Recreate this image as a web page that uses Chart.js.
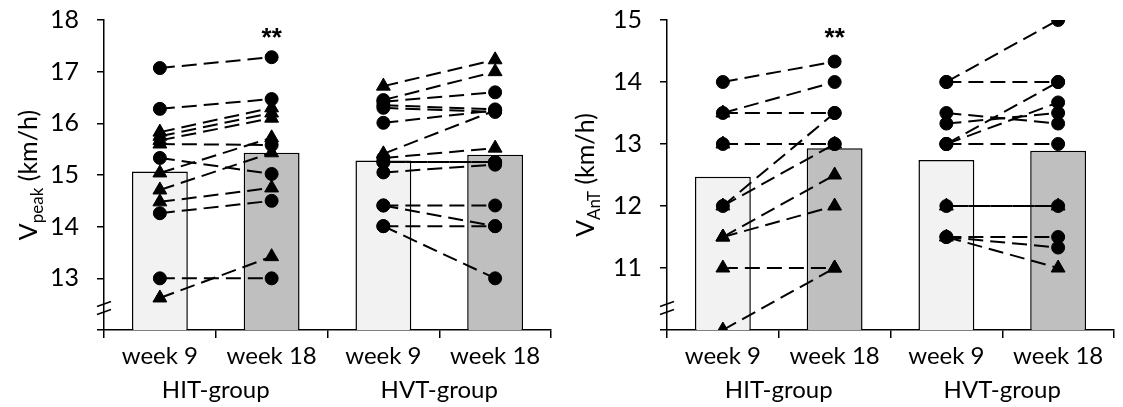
<!DOCTYPE html>
<html>
<head>
<meta charset="utf-8">
<script src="https://cdn.jsdelivr.net/npm/chart.js@4.4.0/dist/chart.umd.min.js"></script>
<style>
  html, body { margin: 0; padding: 0; background: #fff; }
  #wrap { position: relative; width: 1123px; height: 407px; }
  canvas { position: absolute; top: 0; }
</style>
</head>
<body>
<div id="wrap">
  <canvas id="peak" width="560" height="407" style="left:0"></canvas>
  <canvas id="ant" width="563" height="407" style="left:560px"></canvas>
</div>
<script>
// Category labels
const weeks = ['week 9', 'week 18', 'week 9', 'week 18'];
const groups = ['HIT-group', 'HVT-group'];

// Y-axis ranges and ticks
const peakTicks = [12, 13, 14, 15, 16, 17, 18];
const antTicks = [10, 11, 12, 13, 14, 15];

// Group means (bars): HIT wk9, HIT wk18, HVT wk9, HVT wk18
const peakMeans = [15.07, 15.43, 15.28, 15.39];
const antMeans = [12.47, 12.93, 12.74, 12.89];

// Individual runners, [week 9, week 18]
const peakHIT = [[17.07, 17.28], [16.28, 16.47], [15.83, 16.30], [15.75, 16.20], [15.67, 16.10],
  [15.60, 15.58], [15.33, 15.02], [15.04, 15.72], [14.71, 15.43], [14.48, 14.75],
  [14.26, 14.50], [13.00, 13.00], [12.62, 13.42]];
const peakHITMarks = ['cc', 'cc', 'tt', 'tt', 'tt', 'tc', 'cc', 'tt', 'tt', 'tt', 'cc', 'cc', 'tt'];

const peakHVT = [[16.72, 17.23], [16.45, 17.00], [16.42, 16.60], [16.35, 16.27], [16.30, 16.22],
  [16.01, 16.25], [15.41, 16.25], [15.33, 15.52], [15.25, 15.25], [15.25, 15.25],
  [15.05, 15.20], [14.41, 14.41], [14.41, 14.01], [14.01, 14.01], [14.01, 13.00]];
const peakHVTMarks = ['tt', 'ct', 'cc', 'cc', 'cc', 'cc', 'tc', 'ct', 'cc', 'cc', 'cc', 'cc', 'cc', 'cc', 'cc'];
const peakHVTShifted = [9];

const antHIT = [[14.0, 14.33], [13.5, 14.0], [13.5, 13.5], [13.0, 13.0], [13.0, 13.0],
  [12.0, 13.5], [12.0, 13.0], [11.5, 12.5], [11.5, 12.0], [11.0, 11.0], [10.0, 11.0]];
const antHITMarks = ['cc', 'cc', 'tc', 'cc', 'tt', 'cc', 'tc', 'tt', 'tt', 'tt', 'tt'];

const antHVT = [[14.0, 15.0], [14.0, 14.0], [13.0, 14.0], [13.0, 13.67], [13.5, 13.33],
  [13.33, 13.5], [13.0, 13.0], [12.0, 12.0], [12.0, 12.0], [11.5, 11.5], [11.5, 11.33], [11.5, 11.0]];
const antHVTMarks = ['cc', 'cc', 'cc', 'cc', 'cc', 'cc', 'cc', 'cc', 'tt', 'cc', 'cc', 'tt'];
const antHVTShifted = [8];

const FONT = 'Lato';
const barFill = ['#f2f2f2', '#bfbfbf', '#f2f2f2', '#bfbfbf'];

function styleOf(code) { return code === 't' ? 'triangle' : 'circle'; }
function radiusOf(code) { return code === 't' ? 8 : 6.5; }

// One line dataset per runner; the group decides which two categories it spans.
// Runners listed in `shifted` get a dash offset, so coinciding lines read as solid.
function runnerSets(rows, marks, offset, shifted = []) {
  return rows.map((r, i) => {
    const data = [null, null, null, null];
    data[offset] = r[0];
    data[offset + 1] = r[1];
    const ps = ['circle', 'circle', 'circle', 'circle'];
    const pr = [0, 0, 0, 0];
    ps[offset] = styleOf(marks[i][0]); ps[offset + 1] = styleOf(marks[i][1]);
    pr[offset] = radiusOf(marks[i][0]); pr[offset + 1] = radiusOf(marks[i][1]);
    return {
      type: 'line',
      data,
      order: 0,
      borderColor: '#000',
      borderWidth: 2,
      borderDash: [15, 7],
      borderDashOffset: shifted.includes(i) ? 15 : 0,
      pointStyle: ps,
      pointRadius: pr,
      pointBackgroundColor: '#000',
      pointBorderColor: '#000',
      pointBorderWidth: 1,
      spanGaps: false,
      tension: 0,
      fill: false
    };
  });
}

// Axis title with subscript, break marks, group captions and significance stars
const decor = {
  id: 'decor',
  afterDraw(chart, args, o) {
    const ctx = chart.ctx;
    const x = chart.scales.x;
    const ca = chart.chartArea;
    ctx.save();

    // y title
    ctx.fillStyle = '#000';
    ctx.textBaseline = 'alphabetic';
    ctx.font = `25px ${FONT}`;
    const wV = ctx.measureText('V').width;
    const wU = ctx.measureText(' (km/h)').width;
    ctx.font = `17px ${FONT}`;
    const wS = ctx.measureText(o.sub).width;
    const total = wV + wS + wU;
    ctx.translate(o.titleX, (ca.top + ca.bottom) / 2);
    ctx.rotate(-Math.PI / 2);
    let u = -total / 2;
    ctx.font = `25px ${FONT}`;
    ctx.fillText('V', u, 0); u += wV;
    ctx.font = `17px ${FONT}`;
    ctx.fillText(o.sub, u, 6); u += wS;
    ctx.font = `25px ${FONT}`;
    ctx.fillText(' (km/h)', u, 0);
    ctx.setTransform(1, 0, 0, 1, 0, 0);

    // axis break
    ctx.strokeStyle = '#000';
    ctx.lineWidth = 1.5;
    const bx = ca.left;
    [26, 18].forEach(d => {
      const by = ca.bottom - d;
      ctx.beginPath();
      ctx.moveTo(bx - 7, by + 2.5);
      ctx.lineTo(bx + 7, by - 2.5);
      ctx.stroke();
    });

    // group captions
    ctx.font = `24px ${FONT}`;
    ctx.textAlign = 'center';
    ctx.textBaseline = 'middle';
    groups.forEach((g, i) => {
      const cx = (x.getPixelForValue(2 * i) + x.getPixelForValue(2 * i + 1)) / 2;
      ctx.fillText(g, cx, 390);
    });

    // significance
    ctx.font = `bold 26px 'Liberation Sans'`;
    ctx.fillText('**', x.getPixelForValue(1), ca.top + 19);
    ctx.restore();
  }
};

function makeChart(id, cfg) {
  const lo = cfg.ticks[0], hi = cfg.ticks[cfg.ticks.length - 1];
  return new Chart(document.getElementById(id), {
    data: {
      labels: weeks,
      datasets: [
        {
          type: 'bar',
          data: cfg.means,
          order: 10,
          backgroundColor: barFill,
          borderColor: '#000',
          borderWidth: 1.5,
          barPercentage: 0.5,
          categoryPercentage: 1
        },
        ...runnerSets(cfg.hit, cfg.hitMarks, 0),
        ...runnerSets(cfg.hvt, cfg.hvtMarks, 2, cfg.hvtShifted)
      ]
    },
    options: {
      responsive: false,
      animation: false,
      events: [],
      layout: { padding: { left: 0, right: cfg.right, top: 20, bottom: 0 } },
      plugins: {
        legend: { display: false },
        tooltip: { enabled: false },
        decor: { sub: cfg.sub, titleX: cfg.titleX }
      },
      scales: {
        x: {
          type: 'category',
          offset: true,
          grid: { display: true, drawOnChartArea: false, drawTicks: true, tickLength: 8, color: '#000', lineWidth: 1.5, offset: true },
          border: { display: true, color: '#000', width: 1.5 },
          ticks: { font: { family: FONT, size: 24 }, color: '#000', padding: 4, maxRotation: 0, autoSkip: false },
          afterFit(s) { s.height = 77; }
        },
        y: {
          type: 'linear',
          min: lo,
          max: hi,
          afterBuildTicks(s) { s.ticks = cfg.ticks.map(v => ({ value: v })); },
          grid: { display: true, drawOnChartArea: false, drawTicks: true, tickLength: 7, color: '#000', lineWidth: 1.5 },
          border: { display: true, color: '#000', width: 1.5 },
          ticks: {
            font: { family: FONT, size: 25 }, color: '#000', padding: 18,
            callback: v => (v === lo ? '' : String(v))
          },
          afterFit(s) {
            s.width = cfg.axisW;
            s.paddingTop = 0;
            s.paddingBottom = 0;
          }
        }
      }
    },
    plugins: [decor]
  });
}

makeChart('peak', {
  ticks: peakTicks, means: peakMeans,
  hit: peakHIT, hitMarks: peakHITMarks, hvt: peakHVT, hvtMarks: peakHVTMarks, hvtShifted: peakHVTShifted,
  sub: 'peak', titleX: 37, axisW: 104, right: 2
});
makeChart('ant', {
  ticks: antTicks, means: antMeans,
  hit: antHIT, hitMarks: antHITMarks, hvt: antHVT, hvtMarks: antHVTMarks, hvtShifted: antHVTShifted,
  sub: 'AnT', titleX: 34, axisW: 107, right: 3
});
</script>
</body>
</html>
